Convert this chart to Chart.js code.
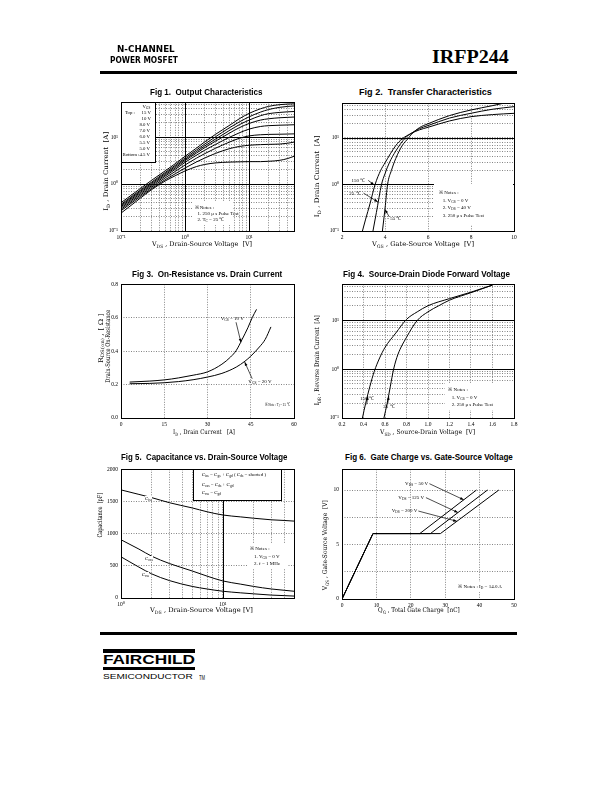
<!DOCTYPE html>
<html>
<head>
<meta charset="utf-8">
<title>IRFP244</title>
<script src="https://cdn.jsdelivr.net/npm/chart.js@4.4.0/dist/chart.umd.min.js"></script>
<style>
  body { margin: 0; background: #fff; }
  #page { position: relative; width: 612px; height: 792px; overflow: hidden; background: #fff; color: #000; }
  #page canvas { position: absolute; }
  .tx { position: absolute; white-space: nowrap; line-height: 1; font-family: "DejaVu Serif", serif; }
  .tx sub { font-size: 70%; vertical-align: -0.35em; line-height: 0; }
  .hdr { font-family: "DejaVu Sans", sans-serif; font-weight: bold; font-size: 8px; }
  .part { font-family: "Liberation Serif", serif; font-weight: bold; font-size: 19px; }
  .ttl { font-family: "Liberation Sans Narrow", "Liberation Sans", sans-serif; font-weight: bold; font-size: 9.5px; }
  .axl { font-size: 6.5px; }
  .nt { font-family: "Liberation Serif", serif; font-size: 5px; }
  .lg { font-family: "Liberation Serif", serif; font-size: 4.8px; }
  .logo { font-family: "Liberation Sans", sans-serif; font-weight: bold; font-size: 12px; }
  .semi { font-family: "Liberation Sans", sans-serif; font-size: 7px; }
  .blk { position: absolute; background: #000; }
  .wbox { position: absolute; background: #fff; }
  .bbox { position: absolute; background: #fff; border: 1px solid #000; box-sizing: border-box; }
</style>
</head>
<body>
<div id="page"></div>
<script>
// ---------- data ----------
// Fig 1  output characteristics (VDS [V] vs ID [A]) for each VGS
const outVds  = [0.1, 0.2, 0.3, 0.5, 0.7, 1, 1.5, 2, 3, 5, 7, 10, 15, 20, 30, 40, 50];
const outId15 = [0.4, 0.8, 1.2, 1.95, 2.7, 3.9, 5.8, 7.8, 11.5, 18, 24.5, 32, 40, 45, 49, 50.5, 51];
const outId10 = [0.37, 0.74, 1.1, 1.8, 2.5, 3.6, 5.3, 7.0, 10.2, 16, 21, 27, 34, 38.5, 43, 45, 46];
const outId8  = [0.35, 0.7, 1.04, 1.7, 2.35, 3.35, 4.9, 6.4, 9.1, 14, 18.3, 23, 28.5, 31.5, 33.5, 34.5, 35];
const outId7  = [0.33, 0.66, 0.98, 1.6, 2.2, 3.15, 4.55, 5.9, 8.2, 12.3, 15.8, 19.5, 23, 24.5, 25.8, 26.3, 26.7];
const outId6  = [0.31, 0.62, 0.92, 1.5, 2.05, 2.9, 4.1, 5.2, 7.0, 10, 12.3, 14.8, 16.8, 17.5, 17.9, 18.1, 18.3];
const outId55 = [0.29, 0.58, 0.86, 1.38, 1.85, 2.55, 3.55, 4.4, 5.8, 7.9, 9.4, 10.6, 11.2, 11.4, 11.5, 11.6, 11.7];
const outId5  = [0.27, 0.54, 0.8, 1.26, 1.65, 2.2, 2.95, 3.55, 4.5, 5.7, 6.3, 6.7, 6.9, 7.0, 7.1, 7.4, 7.8];
const outId45 = [0.24, 0.5, 0.76, 1.18, 1.5, 1.9, 2.35, 2.6, 2.82, 2.93, 2.97, 3.0, 3.0, 3.05, 3.2, 3.5, 3.9];

// Fig 2  transfer characteristics (VGS [V] vs ID [A])
const trVgs150 = [2.95, 3.1, 3.3, 3.54, 3.8, 4.0, 4.5, 4.8, 5.2, 5.6, 6, 7, 8, 9, 10];
const trId150  = [0.1, 0.18, 0.38, 1.0, 2.0, 2.9, 6.8, 9.5, 12.3, 14.8, 16.8, 23, 28.4, 31.5, 33.5];
const trVgs25  = [3.44, 3.6, 3.84, 4.0, 4.2, 4.5, 4.95, 5.2, 5.6, 6, 7, 8, 9, 10];
const trId25   = [0.1, 0.25, 1.0, 1.7, 2.9, 5.2, 10, 12.3, 15.7, 18.3, 26.5, 33.6, 41, 46.6];
const trVgsM55 = [3.88, 4.0, 4.12, 4.3, 4.5, 4.8, 5.1, 5.2, 5.6, 6, 7, 8, 9, 9.5];
const trIdM55  = [0.1, 0.3, 1.0, 2.0, 3.6, 6.8, 10, 11.5, 16.5, 20, 30, 39.5, 49, 55];

// Fig 3  on-resistance (ID [A] vs RDS(on) [ohm])
const rdsId10 = [3, 10, 15, 20, 25, 30, 35, 38, 40, 42, 44, 45.5, 47];
const rdsR10  = [0.215, 0.221, 0.228, 0.24, 0.256, 0.276, 0.322, 0.365, 0.405, 0.47, 0.54, 0.6, 0.65];
const rdsId20 = [3, 10, 15, 20, 25, 30, 35, 40, 43, 45, 48, 50, 52];
const rdsR20  = [0.205, 0.207, 0.211, 0.218, 0.229, 0.245, 0.267, 0.305, 0.34, 0.37, 0.425, 0.47, 0.545];

// Fig 4  source-drain diode (VSD [V] vs IDR [A])
const sdV150 = [0.39, 0.42, 0.46, 0.5, 0.55, 0.6, 0.7, 0.8, 0.9, 1.0, 1.2, 1.4, 1.6];
const sdI150 = [0.1, 0.2, 0.45, 0.9, 1.7, 2.8, 5.5, 10.5, 15, 20, 28, 38, 53];
const sdV25  = [0.59, 0.62, 0.65, 0.68, 0.72, 0.8, 0.9, 1.0, 1.1, 1.2, 1.4, 1.6];
const sdI25  = [0.1, 0.2, 0.45, 1.0, 2.0, 4.5, 10, 15, 20, 26, 37, 53];

// Fig 5  capacitance (VDS [V] vs C [pF])
const capV    = [1, 1.5, 2, 3, 5, 7, 10, 15, 20, 30, 40, 50];
const capCiss = [1680, 1610, 1560, 1480, 1400, 1340, 1290, 1260, 1240, 1215, 1205, 1195];
const capCoss = [905, 760, 650, 535, 420, 340, 265, 215, 180, 140, 120, 105];
const capCrss = [640, 480, 375, 270, 180, 140, 105, 80, 65, 45, 37, 30];

// Fig 6  gate charge (QG [nC] vs VGS [V])
const gcV      = [0, 6, 6, 10];
const gcQ50V   = [0, 9, 22.6, 39.1];
const gcQ125V  = [0, 9, 25.7, 42.3];
const gcQ200V  = [0, 9, 28.6, 45.6];

// tick values
const linTicks3X = [0, 15, 30, 45, 60];
const linTicks3Y = [0, 0.2, 0.4, 0.6, 0.8];
const linTicks2X = [2, 4, 6, 8, 10];
const linTicks4X = [0.2, 0.4, 0.6, 0.8, 1.0, 1.2, 1.4, 1.6, 1.8];
const linTicks5Y = [0, 500, 1000, 1500, 2000];
const linTicks6X = [0, 10, 20, 30, 40, 50];
const linTicks6Y = [0, 2.5, 5, 7.5, 10];

// ---------- layout ----------
const page = document.getElementById('page');
const PAD_L = 24, PAD_R = 10, PAD_T = 6, PAD_B = 13;
const FONT = 'Liberation Serif';

function pts(xs, ys) { return xs.map((x, i) => ({ x: x, y: ys[i] })); }

function decadeTicks(min, max) {
  const out = [];
  for (let e = Math.floor(Math.log10(min)); e <= Math.ceil(Math.log10(max)); e++) {
    for (let m = 1; m < 10; m++) {
      const v = +(m * Math.pow(10, e)).toPrecision(6);
      if (v >= min - 1e-9 && v <= max + 1e-9) out.push(v);
    }
  }
  return out;
}

const SUP = { '-': '\u207B', '0': '\u2070', '1': '\u00B9', '2': '\u00B2', '3': '\u00B3' };
function powLabel(v) {
  const e = Math.log10(v);
  if (Math.abs(e - Math.round(e)) > 1e-6) return '';
  return '10' + String(Math.round(e)).split('').map(c => SUP[c]).join('');
}

function axis(type, min, max, tickVals, label) {
  return {
    type: type, min: min, max: max,
    border: { display: false, dash: [1, 1.5] },
    grid: { color: '#666', lineWidth: 0.8, drawTicks: false },
    ticks: { autoSkip: false, maxRotation: 0, padding: 3, color: '#000',
             font: { family: FONT, size: 5.5 }, callback: label },
    afterBuildTicks: s => { s.ticks = tickVals.map(v => ({ value: v })); },
    afterFit: s => { if (s.isHorizontal()) s.height = PAD_B; else s.width = PAD_L; }
  };
}

function line(data, extra) {
  return Object.assign({ data: data, borderColor: '#000', borderWidth: 1, pointRadius: 0,
                         fill: false, cubicInterpolationMode: 'monotone' }, extra || {});
}

// major solid grid lines, frame and arrows
const paperPlugin = {
  id: 'paper',
  beforeDatasetsDraw(chart, args, o) {
    const { ctx, chartArea: a } = chart;
    const x = chart.scales.x, y = chart.scales.y;
    ctx.save();
    ctx.strokeStyle = '#000';
    ctx.lineWidth = 1;
    ctx.beginPath();
    (o.xMajor || []).forEach(v => {
      const p = Math.round(x.getPixelForValue(v)) + 0.5;
      ctx.moveTo(p, a.top); ctx.lineTo(p, a.bottom);
    });
    (o.yMajor || []).forEach(v => {
      const p = Math.round(y.getPixelForValue(v)) + 0.5;
      ctx.moveTo(a.left, p); ctx.lineTo(a.right, p);
    });
    ctx.stroke();
    ctx.restore();
  },
  afterDatasetsDraw(chart, args, o) {
    const { ctx, chartArea: a } = chart;
    const x = chart.scales.x, y = chart.scales.y;
    ctx.save();
    ctx.strokeStyle = '#000';
    ctx.fillStyle = '#000';
    ctx.lineWidth = 1;
    ctx.strokeRect(Math.round(a.left) + 0.5, Math.round(a.top) + 0.5,
                   Math.round(a.right) - Math.round(a.left), Math.round(a.bottom) - Math.round(a.top));
    (o.arrows || []).forEach(ar => {
      const x1 = x.getPixelForValue(ar[0]), y1 = y.getPixelForValue(ar[1]);
      const x2 = x.getPixelForValue(ar[2]), y2 = y.getPixelForValue(ar[3]);
      const ang = Math.atan2(y2 - y1, x2 - x1);
      ctx.lineWidth = 0.7;
      ctx.beginPath(); ctx.moveTo(x1, y1); ctx.lineTo(x2, y2); ctx.stroke();
      ctx.beginPath();
      ctx.moveTo(x2, y2);
      ctx.lineTo(x2 - 4 * Math.cos(ang - 0.35), y2 - 4 * Math.sin(ang - 0.35));
      ctx.lineTo(x2 - 4 * Math.cos(ang + 0.35), y2 - 4 * Math.sin(ang + 0.35));
      ctx.closePath(); ctx.fill();
    });
    ctx.restore();
  }
};
Chart.register(paperPlugin);

function makeChart(rect, datasets, xAxis, yAxis, paper) {
  const cv = document.createElement('canvas');
  const w = rect.r - rect.l + PAD_L + PAD_R, h = rect.b - rect.t + PAD_T + PAD_B;
  cv.width = w; cv.height = h;
  cv.style.width = w + 'px'; cv.style.height = h + 'px';
  cv.style.left = (rect.l - PAD_L) + 'px';
  cv.style.top = (rect.t - PAD_T) + 'px';
  page.appendChild(cv);
  return new Chart(cv, {
    type: 'line',
    data: { datasets: datasets },
    options: {
      responsive: false, animation: false, devicePixelRatio: 1,
      layout: { padding: { top: PAD_T, right: PAD_R, left: 0, bottom: 0 } },
      plugins: { legend: { display: false }, tooltip: { enabled: false }, paper: paper },
      scales: { x: xAxis, y: yAxis }
    }
  });
}

// plot rectangles on the page
const R1 = { l: 121, t: 102, r: 294, b: 231 };
const R2 = { l: 342, t: 103, r: 514, b: 231 };
const R3 = { l: 121, t: 284, r: 294, b: 418 };
const R4 = { l: 342, t: 284, r: 514, b: 418 };
const R5 = { l: 121, t: 469, r: 294, b: 598 };
const R6 = { l: 342, t: 469, r: 514, b: 599 };

// Fig 1
makeChart(R1,
  [outId15, outId10, outId8, outId7, outId6, outId55, outId5, outId45].map(ys => line(pts(outVds, ys))),
  axis('logarithmic', 0.1, 50, decadeTicks(0.1, 50), powLabel),
  axis('logarithmic', 0.1, 55, decadeTicks(0.1, 55), powLabel),
  { xMajor: [1, 10], yMajor: [1, 10] });

// Fig 2
makeChart(R2,
  [line(pts(trVgs150, trId150)), line(pts(trVgs25, trId25)), line(pts(trVgsM55, trIdM55))],
  axis('linear', 2, 10, linTicks2X, v => String(v)),
  axis('logarithmic', 0.1, 55, decadeTicks(0.1, 55), powLabel),
  { yMajor: [1, 10], arrows: [[3.22, 1.22, 3.5, 0.97], [3.0, 0.65, 3.67, 0.42], [4.2, 0.2, 4.0, 0.29]] });

// Fig 3
makeChart(R3,
  [line(pts(rdsId10, rdsR10)), line(pts(rdsId20, rdsR20))],
  axis('linear', 0, 60, linTicks3X, v => String(v)),
  axis('linear', 0, 0.8, linTicks3Y, v => v.toFixed(1)),
  { arrows: [[39.9, 0.573, 41.6, 0.452], [45.5, 0.235, 42.9, 0.335]] });

// Fig 4
makeChart(R4,
  [line(pts(sdV150, sdI150)), line(pts(sdV25, sdI25))],
  axis('linear', 0.2, 1.8, linTicks4X, v => v.toFixed(1)),
  axis('logarithmic', 0.1, 55, decadeTicks(0.1, 55), powLabel),
  { yMajor: [1, 10], arrows: [[0.43, 0.19, 0.44, 0.28], [0.625, 0.19, 0.635, 0.28]] });

// Fig 5
makeChart(R5,
  [line(pts(capV, capCiss)), line(pts(capV, capCoss)), line(pts(capV, capCrss))],
  axis('logarithmic', 1, 50, decadeTicks(1, 50), powLabel),
  axis('linear', 0, 2000, linTicks5Y, v => String(v)),
  { xMajor: [10] });

// Fig 6
makeChart(R6,
  [line(pts(gcQ50V, gcV), { cubicInterpolationMode: 'default', tension: 0 }),
   line(pts(gcQ125V, gcV), { cubicInterpolationMode: 'default', tension: 0 }),
   line(pts(gcQ200V, gcV), { cubicInterpolationMode: 'default', tension: 0 })],
  axis('linear', 0, 50, linTicks6X, v => String(v)),
  axis('linear', 0, 11.9, linTicks6Y, v => (v % 5 === 0 ? String(v) : '')),
  { arrows: [[25.4, 10.58, 35.4, 9.1], [24.4, 9.3, 33.7, 7.93], [22.2, 8.07, 33.4, 7.13]] });

// ---------- boxes ----------
function box(cls, l, t, w, h) {
  const d = document.createElement('div');
  d.className = cls;
  d.style.left = l + 'px'; d.style.top = t + 'px';
  d.style.width = w + 'px'; d.style.height = h + 'px';
  page.appendChild(d);
}
box('blk', 100, 71, 417, 2.5);
box('blk', 100, 632, 417, 2.5);
box('blk', 103, 649, 92, 3.5);
box('blk', 103, 667, 92, 2.5);
box('bbox', 121, 102, 35, 61);      // fig 1 legend
box('wbox', 192, 202, 41, 23);      // fig 1 notes
box('wbox', 434, 184, 79, 41);      // fig 2 notes
box('wbox', 262, 399, 31, 10);      // fig 3 note
box('wbox', 445, 383, 68, 27);      // fig 4 notes
box('bbox', 193, 469, 89, 32);      // fig 5 legend
box('wbox', 247, 543, 40, 25);      // fig 5 notes
box('wbox', 455, 582, 58, 10);      // fig 6 notes

// ---------- text ----------
function put(html, x, y, o) {
  o = o || {};
  const el = document.createElement('div');
  el.className = 'tx ' + (o.cls || '');
  el.innerHTML = html;
  if (o.bg) el.style.background = '#fff';
  page.appendChild(el);
  const natW = el.offsetWidth, natH = el.offsetHeight;
  const sx = o.w ? o.w / natW : 1;
  if (o.rot) {
    el.style.left = (x - natW / 2) + 'px';
    el.style.top = (y - natH / 2) + 'px';
    el.style.transformOrigin = '50% 50%';
    el.style.transform = 'rotate(-90deg) scaleX(' + sx + ')';
    return;
  }
  const w = natW * sx;
  let left = x;
  if (o.align === 'center') left = x - w / 2;
  else if (o.align === 'right') left = x - w;
  el.style.left = left + 'px';
  el.style.top = (y - natH / 2) + 'px';
  el.style.transformOrigin = '0 50%';
  el.style.transform = 'scaleX(' + sx + ')';
}

// header / footer
put('N-CHANNEL', 117, 49.5, { cls: 'hdr', w: 58 });
put('POWER MOSFET', 110, 60.5, { cls: 'hdr', w: 68 });
put('IRFP244', 432, 56, { cls: 'part', w: 77 });
put('FAIRCHILD', 103, 660, { cls: 'logo', w: 92 });
put('SEMICONDUCTOR', 103, 676, { cls: 'semi', w: 89 });
put('TM', 198.5, 677, { cls: 'semi', w: 6 });

// titles
put('Fig 1.&nbsp; Output Characteristics', 206.5, 91.5, { cls: 'ttl', align: 'center', w: 113 });
put('Fig 2.&nbsp; Transfer Characteristics', 425.5, 91.5, { cls: 'ttl', align: 'center', w: 133 });
put('Fig 3.&nbsp; On-Resistance vs. Drain Current', 206.7, 273.5, { cls: 'ttl', align: 'center', w: 150 });
put('Fig 4.&nbsp; Source-Drain Diode Forward Voltage', 426.7, 273.5, { cls: 'ttl', align: 'center', w: 167 });
put('Fig 5.&nbsp; Capacitance vs. Drain-Source Voltage', 204, 457, { cls: 'ttl', align: 'center', w: 166 });
put('Fig 6.&nbsp; Gate Charge vs. Gate-Source Voltage', 429, 457, { cls: 'ttl', align: 'center', w: 168 });

// axis titles
put('V<sub>DS</sub> , Drain-Source Voltage &nbsp;[V]', 202, 244, { cls: 'axl', align: 'center', w: 100 });
put('I<sub>D</sub> , Drain Current &nbsp;[A]', 106.5, 171, { cls: 'axl', rot: true, w: 79 });
put('V<sub>GS</sub> , Gate-Source Voltage &nbsp;[V]', 422.5, 244, { cls: 'axl', align: 'center', w: 102 });
put('I<sub>D</sub> , Drain Current &nbsp;[A]', 317, 176, { cls: 'axl', rot: true, w: 82 });
put('I<sub>D</sub> , Drain Current &nbsp;&nbsp;[A]', 204, 432, { cls: 'axl', align: 'center', w: 62 });
put('R<sub>DS(on)</sub> , [ &#937; ]', 101, 338, { cls: 'axl', rot: true, w: 50 });
put('Drain-Source On-Resistance', 108.5, 346, { cls: 'axl', rot: true, w: 73 });
put('V<sub>SD</sub> , Source-Drain Voltage &nbsp;[V]', 427.5, 432, { cls: 'axl', align: 'center', w: 95 });
put('I<sub>DR</sub> , Reverse Drain Current &nbsp;[A]', 317, 360, { cls: 'axl', rot: true, w: 90 });
put('V<sub>DS</sub> , Drain-Source Voltage [V]', 201.5, 610, { cls: 'axl', align: 'center', w: 103 });
put('Capacitance &nbsp;[pF]', 100.5, 515, { cls: 'axl', rot: true, w: 45 });
put('Q<sub>G</sub> , Total Gate Charge &nbsp;[nC]', 419, 610, { cls: 'axl', align: 'center', w: 82 });
put('V<sub>GS</sub> , Gate-Source Voltage &nbsp;[V]', 325, 545, { cls: 'axl', rot: true, w: 90 });

// fig 1 legend + notes
put('V<sub>GS</sub>', 150.5, 107.7, { cls: 'lg', align: 'right' });
put('Top :', 125, 113.3, { cls: 'lg' });
const legendVgs = ['15 V', '10 V', '8.0 V', '7.0 V', '6.0 V', '5.5 V', '5.0 V', '4.5 V'];
legendVgs.forEach((s, i) => put(s, 150.5, 113.3 + i * 6, { cls: 'lg', align: 'right' }));
put('Bottom :', 122.5, 155.3, { cls: 'lg' });
put('&#8251; Notes :', 194.5, 207.5, { cls: 'nt' });
put('1. 250 &#956; s Pulse Test', 197.5, 213.3, { cls: 'nt' });
put('2. T<sub>C</sub> = 25 &#8451;', 197.5, 219.3, { cls: 'nt' });

// fig 2 labels
put('150 &#8451;', 351.5, 180, { cls: 'nt' });
put('25 &#8451;', 349.3, 193.3, { cls: 'nt' });
put('- 55 &#8451;', 387.3, 218.3, { cls: 'nt' });
put('&#8251; Notes :', 439, 192.3, { cls: 'nt' });
put('1. V<sub>GS</sub> = 0 V', 442.7, 200, { cls: 'nt' });
put('2. V<sub>DS</sub> = 40 V', 442.7, 207.3, { cls: 'nt' });
put('3. 250 &#956; s Pulse Test', 442.7, 215.7, { cls: 'nt' });

// fig 3 labels
put('V<sub>GS</sub> = 10 V', 220.7, 318.3, { cls: 'nt' });
put('V<sub>GS</sub> = 20 V', 248.3, 381, { cls: 'nt' });
put('&#8251; Note : T<sub>J</sub> = 25 &#8451;', 265, 404.3, { cls: 'nt', w: 25 });

// fig 4 labels
put('150 &#8451;', 360, 398.3, { cls: 'nt' });
put('25 &#8451;', 383.3, 406.7, { cls: 'nt' });
put('&#8251; Notes :', 448.3, 389, { cls: 'nt' });
put('1. V<sub>GS</sub> = 0 V', 451.7, 397.3, { cls: 'nt' });
put('2. 250 &#956; s Pulse Test', 451.7, 404.3, { cls: 'nt' });

// fig 5 labels
put('C<sub>iss</sub> = C<sub>gs</sub> + C<sub>gd</sub> ( C<sub>ds</sub> = shorted )', 201.7, 474, { cls: 'nt' });
put('C<sub>oss</sub> = C<sub>ds</sub> + C<sub>gd</sub>', 201.7, 484, { cls: 'nt' });
put('C<sub>rss</sub> = C<sub>gd</sub>', 201.7, 492.3, { cls: 'nt' });
put('C<sub>iss</sub>', 145, 498.3, { cls: 'nt', bg: true });
put('C<sub>oss</sub>', 145, 558.3, { cls: 'nt', bg: true });
put('C<sub>rss</sub>', 141.7, 574, { cls: 'nt', bg: true });
put('&#8251; Notes :', 250, 548.3, { cls: 'nt' });
put('1. V<sub>GS</sub> = 0 V', 254, 556, { cls: 'nt' });
put('2. f = 1 MHz', 254, 563.3, { cls: 'nt' });

// fig 6 labels
put('V<sub>DS</sub> = 50 V', 405, 483.3, { cls: 'nt' });
put('V<sub>DS</sub> = 125 V', 398.3, 497.3, { cls: 'nt' });
put('V<sub>DS</sub> = 200 V', 391.7, 510.7, { cls: 'nt' });
put('&#8251; Notes : I<sub>D</sub> = 14.0 A', 458.3, 586.7, { cls: 'nt' });
</script>
</body>
</html>
